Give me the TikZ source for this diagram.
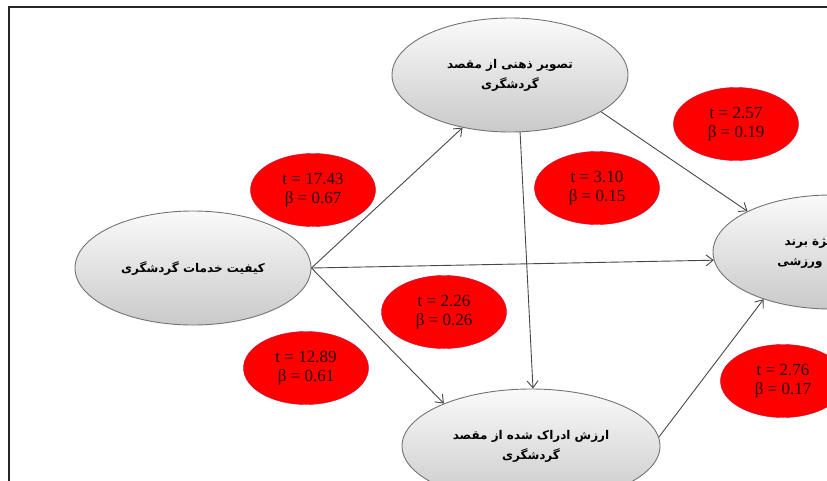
\documentclass[tikz,border=0pt]{standalone}
\usepackage{fontspec}
\setmainfont{Liberation Serif}
\newfontfamily\persian[Script=Arabic]{DejaVu Sans}
\TeXXeTstate=1
\usetikzlibrary{arrows.meta, shapes.geometric}
\newcommand{\fa}[1]{\beginR #1\endR}

\begin{document}
\begin{tikzpicture}[x=1pt, y=-1pt,
    construct/.style={ellipse, draw=black!55, line width=0.9pt, top color=gray!4, bottom color=gray!42,
      minimum width=236, minimum height=114, align=center,
      font=\persian\bfseries\fontsize{12}{20}\selectfont},
    stat/.style={ellipse, fill=red, draw=red!80!blue, minimum width=125, minimum height=73,
      align=center, text=black!85!red, font=\fontsize{17}{19}\selectfont},
    link/.style={draw=black!72, line width=0.9pt, -{Straight Barb[length=7pt,width=11pt]}}]
  \useasboundingbox (0,0) rectangle (827,480);
  \clip (0,0) rectangle (827,480);
  \draw[line width=2pt, black!85] (9,490) -- (9,7) -- (840,7);

  % constructs
  \node[construct] (image) at (510,75) {\fa{تصویر ذهنی از مقصد}\\\fa{گردشگری}};
  \node[construct] (quality) at (193,268) {\fa{کیفیت خدمات گردشگری}};
  \node[construct, minimum width=258] (value) at (531,446) {\fa{ارزش ادراک شده از مقصد}\\\fa{گردشگری}};
  \node[construct] (equity) at (831,252) {\fa{ارزش ویژة برند}\\\fa{گردشگری ورزشی}};

  % path coefficients
  \foreach \x/\y/\t/\b [count=\i] in {313/190/17.43/0.67, 597/188/3.10/0.15, 736/124/2.57/0.19,
      444/312/2.26/0.26, 306/368/12.89/0.61, 783/381/2.76/0.17}
    \node[stat] (stat\i) at (\x,\y) {t = \t\\β = \b};

  \draw[link] (quality.east) -- (image.228);
  \draw[link] (quality.east) -- (equity.184);
  \draw[link] (quality.east) -- (value.154);
  \draw[link] (image.-80) -- (value.88);
  \draw[link] (image.-22) -- (equity.154);
  \draw[link] (value.4) -- (equity.215);
\end{tikzpicture}
\end{document}
